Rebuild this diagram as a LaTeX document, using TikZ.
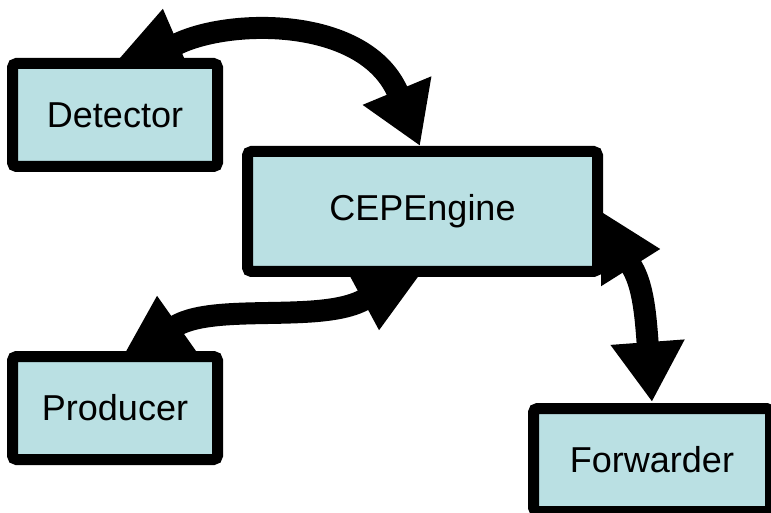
\documentclass[tikz,border=0pt]{standalone}
\usepackage{fontspec}
\setmainfont{Liberation Sans}
\usetikzlibrary{arrows.meta}
\usetikzlibrary{calc,backgrounds}
\definecolor{boxfill}{RGB}{186,224,227}
\tikzset{
  comp/.style = {draw=black, line width=5.5pt, fill=boxfill, rounded corners=2pt,
                 minimum width=102.5pt, minimum height=51.5pt,
                 font=\fontsize{18}{21}\selectfont},
  link/.style = {line width=11pt},
  fwd/.tip = {Triangle[length=30pt, width=35pt]}
}

\begin{document}
\begin{tikzpicture}[x=0.5pt, y=0.5pt]
\useasboundingbox (0,0) rectangle (771,-513);
\clip (0,0) rectangle (771,-513);
% the four components
\node[comp] (detector) at (115,-115) {Detector};
\node[comp, minimum width=175pt, minimum height=60pt] (engine) at (422.5,-211.5) {CEPEngine};
\node[comp] (producer) at (115,-408) {Producer};
\node[comp, minimum width=118.5pt] (forwarder) at (652,-460) {Forwarder};
% links sit behind the boxes
\begin{scope}[on background layer]
\draw[link, -fwd] ($(detector.north)+(39,-9)$)
  .. controls ($(detector.north)+(45.7,35.5)$) and ($(engine.north)+(-63.8,147.7)$)
  .. ($(engine.north)+(-2.5,0)$);
\draw[link] ($(producer.north)+(45,-4)$)
  .. controls ($(producer.north)+(41,76)$) and ($(engine.south)+(-44.5,-74)$)
  .. ($(engine.south)+(-39.5,6)$);
\draw[link, -fwd] ($(engine.east)+(-2,-37.5)$)
  .. controls ($(engine.east)+(38,-37.5)$) and ($(forwarder.north)+(-7.4,101)$)
  .. ($(forwarder.north)+(0,1)$);
% heads pointing away from the box they start at
\draw[link, -fwd] ($(detector.north)+(38,-14)$) -- ($(detector.north)+(48,50)$);
\draw[link, -fwd] ($(producer.north)+(45.5,-10)$) -- ($(producer.north)+(42,56)$);
\draw[link, -fwd] ($(engine.south)+(-39,12)$) -- ($(engine.south)+(-43.5,-54)$);
\draw[link, -fwd] ($(engine.east)+(-8,-37.5)$) -- ($(engine.east)+(58,-37.5)$);
\end{scope}
\end{tikzpicture}
\end{document}
